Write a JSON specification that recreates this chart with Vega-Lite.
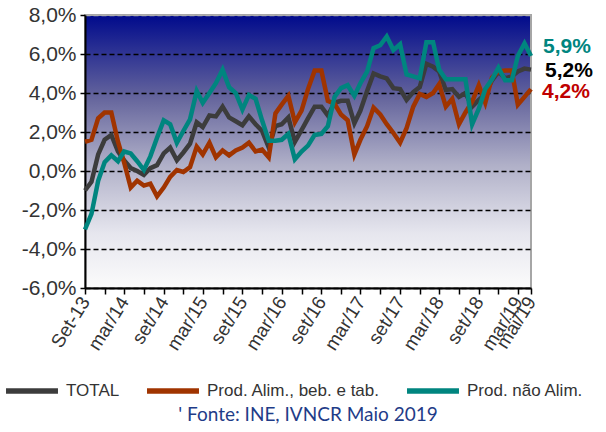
{
  "$schema": "https://vega.github.io/schema/vega-lite/v6.json",
  "width": 446,
  "height": 273,
  "autosize": "none",
  "padding": {"left": 85, "top": 15, "right": 75, "bottom": 144},
  "background": "white",
  "config": {
    "font": "Liberation Sans",
    "view": {
      "fill": {"gradient": "linear", "x1": 0, "y1": 0, "x2": 0, "y2": 1,
        "stops": [
          {"offset": 0, "color": "#000a8c"},
          {"offset": 0.3, "color": "#64649c"},
          {"offset": 0.55, "color": "#b0b0c8"},
          {"offset": 0.8, "color": "#e6e6ee"},
          {"offset": 1, "color": "#fbfbfb"}
        ]},
      "stroke": "#a6a6a6",
      "strokeWidth": 2
    }
  },
  "title": {
    "text": "'   Fonte: INE, IVNCR Maio 2019",
    "orient": "bottom",
    "anchor": "middle",
    "font": "Lato",
    "fontSize": 19,
    "fontWeight": "normal",
    "color": "#1f3c88",
    "offset": 4
  },
  "layer": [
    {
      "data": {"values": [
        {"date": "2013-09-01", "TOTAL": -1.0, "Alim": 1.5, "NaoAlim": -3.0},
        {"date": "2013-10-01", "TOTAL": -0.55, "Alim": 1.6, "NaoAlim": -2.2},
        {"date": "2013-11-01", "TOTAL": 0.85, "Alim": 2.7, "NaoAlim": -0.5},
        {"date": "2013-12-01", "TOTAL": 1.6, "Alim": 3.0, "NaoAlim": 0.45},
        {"date": "2014-01-01", "TOTAL": 1.85, "Alim": 3.0, "NaoAlim": 0.8},
        {"date": "2014-02-01", "TOTAL": 1.0, "Alim": 1.5, "NaoAlim": 0.5},
        {"date": "2014-03-01", "TOTAL": 0.55, "Alim": 0.45, "NaoAlim": 1.0},
        {"date": "2014-04-01", "TOTAL": 0.15, "Alim": -0.85, "NaoAlim": 0.9},
        {"date": "2014-05-01", "TOTAL": 0.0, "Alim": -0.5, "NaoAlim": 0.5},
        {"date": "2014-06-01", "TOTAL": -0.2, "Alim": -0.75, "NaoAlim": 0.05},
        {"date": "2014-07-01", "TOTAL": 0.15, "Alim": -0.65, "NaoAlim": 0.75},
        {"date": "2014-08-01", "TOTAL": 0.3, "Alim": -1.3, "NaoAlim": 1.7},
        {"date": "2014-09-01", "TOTAL": 0.9, "Alim": -0.85, "NaoAlim": 2.6},
        {"date": "2014-10-01", "TOTAL": 1.2, "Alim": -0.3, "NaoAlim": 2.4},
        {"date": "2014-11-01", "TOTAL": 0.55, "Alim": 0.05, "NaoAlim": 1.45},
        {"date": "2014-12-01", "TOTAL": 0.95, "Alim": -0.05, "NaoAlim": 2.05},
        {"date": "2015-01-01", "TOTAL": 1.4, "Alim": 0.2, "NaoAlim": 2.65},
        {"date": "2015-02-01", "TOTAL": 2.5, "Alim": 1.25, "NaoAlim": 4.1},
        {"date": "2015-03-01", "TOTAL": 2.25, "Alim": 0.85, "NaoAlim": 3.5},
        {"date": "2015-04-01", "TOTAL": 2.85, "Alim": 1.45, "NaoAlim": 4.0},
        {"date": "2015-05-01", "TOTAL": 2.8, "Alim": 0.7, "NaoAlim": 4.5},
        {"date": "2015-06-01", "TOTAL": 3.3, "Alim": 1.05, "NaoAlim": 5.2},
        {"date": "2015-07-01", "TOTAL": 2.75, "Alim": 0.8, "NaoAlim": 4.3},
        {"date": "2015-08-01", "TOTAL": 2.55, "Alim": 1.05, "NaoAlim": 4.0},
        {"date": "2015-09-01", "TOTAL": 2.35, "Alim": 1.2, "NaoAlim": 3.15},
        {"date": "2015-10-01", "TOTAL": 2.8, "Alim": 1.45, "NaoAlim": 3.9},
        {"date": "2015-11-01", "TOTAL": 2.4, "Alim": 1.0, "NaoAlim": 3.7},
        {"date": "2015-12-01", "TOTAL": 2.05, "Alim": 1.1, "NaoAlim": 2.6},
        {"date": "2016-01-01", "TOTAL": 1.2, "Alim": 0.7, "NaoAlim": 1.55},
        {"date": "2016-02-01", "TOTAL": 2.3, "Alim": 2.95, "NaoAlim": 1.55},
        {"date": "2016-03-01", "TOTAL": 2.4, "Alim": 3.4, "NaoAlim": 1.6},
        {"date": "2016-04-01", "TOTAL": 2.75, "Alim": 3.85, "NaoAlim": 1.9},
        {"date": "2016-05-01", "TOTAL": 1.5, "Alim": 2.5, "NaoAlim": 0.6},
        {"date": "2016-06-01", "TOTAL": 2.1, "Alim": 3.1, "NaoAlim": 1.0},
        {"date": "2016-07-01", "TOTAL": 2.7, "Alim": 4.2, "NaoAlim": 1.3},
        {"date": "2016-08-01", "TOTAL": 3.3, "Alim": 5.15, "NaoAlim": 1.85},
        {"date": "2016-09-01", "TOTAL": 3.3, "Alim": 5.15, "NaoAlim": 1.9},
        {"date": "2016-10-01", "TOTAL": 2.85, "Alim": 3.6, "NaoAlim": 2.3},
        {"date": "2016-11-01", "TOTAL": 3.5, "Alim": 3.45, "NaoAlim": 3.8},
        {"date": "2016-12-01", "TOTAL": 3.6, "Alim": 2.9, "NaoAlim": 4.25},
        {"date": "2017-01-01", "TOTAL": 3.6, "Alim": 2.6, "NaoAlim": 4.4},
        {"date": "2017-02-01", "TOTAL": 2.45, "Alim": 0.85, "NaoAlim": 3.85},
        {"date": "2017-03-01", "TOTAL": 3.1, "Alim": 1.6, "NaoAlim": 4.5},
        {"date": "2017-04-01", "TOTAL": 4.1, "Alim": 2.3, "NaoAlim": 5.1},
        {"date": "2017-05-01", "TOTAL": 5.0, "Alim": 3.25, "NaoAlim": 6.3},
        {"date": "2017-06-01", "TOTAL": 4.85, "Alim": 2.9, "NaoAlim": 6.45},
        {"date": "2017-07-01", "TOTAL": 4.75, "Alim": 2.4, "NaoAlim": 6.9},
        {"date": "2017-08-01", "TOTAL": 4.25, "Alim": 1.95, "NaoAlim": 6.2},
        {"date": "2017-09-01", "TOTAL": 4.2, "Alim": 1.45, "NaoAlim": 6.5},
        {"date": "2017-10-01", "TOTAL": 3.65, "Alim": 2.2, "NaoAlim": 4.95},
        {"date": "2017-11-01", "TOTAL": 4.05, "Alim": 3.3, "NaoAlim": 4.85},
        {"date": "2017-12-01", "TOTAL": 4.3, "Alim": 3.95, "NaoAlim": 4.75},
        {"date": "2018-01-01", "TOTAL": 5.5, "Alim": 3.8, "NaoAlim": 6.6},
        {"date": "2018-02-01", "TOTAL": 5.35, "Alim": 4.0, "NaoAlim": 6.6},
        {"date": "2018-03-01", "TOTAL": 5.1, "Alim": 4.45, "NaoAlim": 5.2},
        {"date": "2018-04-01", "TOTAL": 4.15, "Alim": 3.3, "NaoAlim": 4.7},
        {"date": "2018-05-01", "TOTAL": 4.2, "Alim": 3.7, "NaoAlim": 4.7},
        {"date": "2018-06-01", "TOTAL": 3.8, "Alim": 2.4, "NaoAlim": 4.7},
        {"date": "2018-07-01", "TOTAL": 4.0, "Alim": 3.0, "NaoAlim": 4.7},
        {"date": "2018-08-01", "TOTAL": 3.3, "Alim": 3.55, "NaoAlim": 2.4},
        {"date": "2018-09-01", "TOTAL": 3.65, "Alim": 4.4, "NaoAlim": 3.2},
        {"date": "2018-10-01", "TOTAL": 3.95, "Alim": 3.5, "NaoAlim": 4.2},
        {"date": "2018-11-01", "TOTAL": 4.65, "Alim": 4.8, "NaoAlim": 4.7},
        {"date": "2018-12-01", "TOTAL": 5.1, "Alim": 5.1, "NaoAlim": 5.3},
        {"date": "2019-01-01", "TOTAL": 4.75, "Alim": 5.15, "NaoAlim": 4.65},
        {"date": "2019-02-01", "TOTAL": 4.85, "Alim": 5.15, "NaoAlim": 4.65},
        {"date": "2019-03-01", "TOTAL": 5.1, "Alim": 3.4, "NaoAlim": 5.9},
        {"date": "2019-04-01", "TOTAL": 5.25, "Alim": 3.8, "NaoAlim": 6.55},
        {"date": "2019-05-01", "TOTAL": 5.2, "Alim": 4.2, "NaoAlim": 5.9}
      ]},
      "transform": [{"fold": ["TOTAL", "Alim", "NaoAlim"], "as": ["series", "value"]}],
      "mark": {"type": "line", "strokeWidth": 4.5, "strokeJoin": "miter"},
      "encoding": {
        "x": {
          "field": "date", "type": "temporal",
          "scale": {"type": "utc", "nice": false,
            "domain": [{"year": 2013, "month": 9, "date": 1, "utc": true}, {"year": 2019, "month": 5, "date": 1, "utc": true}]},
          "axis": {
            "title": null, "grid": false, "tickCount": 40,
            "values": [
              {"year": 2013, "month": 9, "date": 1, "utc": true},
              {"year": 2013, "month": 12, "date": 1, "utc": true},
              {"year": 2014, "month": 3, "date": 1, "utc": true},
              {"year": 2014, "month": 6, "date": 1, "utc": true},
              {"year": 2014, "month": 9, "date": 1, "utc": true},
              {"year": 2014, "month": 12, "date": 1, "utc": true},
              {"year": 2015, "month": 3, "date": 1, "utc": true},
              {"year": 2015, "month": 6, "date": 1, "utc": true},
              {"year": 2015, "month": 9, "date": 1, "utc": true},
              {"year": 2015, "month": 12, "date": 1, "utc": true},
              {"year": 2016, "month": 3, "date": 1, "utc": true},
              {"year": 2016, "month": 6, "date": 1, "utc": true},
              {"year": 2016, "month": 9, "date": 1, "utc": true},
              {"year": 2016, "month": 12, "date": 1, "utc": true},
              {"year": 2017, "month": 3, "date": 1, "utc": true},
              {"year": 2017, "month": 6, "date": 1, "utc": true},
              {"year": 2017, "month": 9, "date": 1, "utc": true},
              {"year": 2017, "month": 12, "date": 1, "utc": true},
              {"year": 2018, "month": 3, "date": 1, "utc": true},
              {"year": 2018, "month": 6, "date": 1, "utc": true},
              {"year": 2018, "month": 9, "date": 1, "utc": true},
              {"year": 2018, "month": 12, "date": 1, "utc": true},
              {"year": 2019, "month": 3, "date": 1, "utc": true},
              {"year": 2019, "month": 5, "date": 1, "utc": true}
            ],
            "labelExpr": "utcmonth(datum.value) == 8 && utcyear(datum.value) == 2013 ? 'Set-13' : utcmonth(datum.value) == 2 ? 'mar/' + utcFormat(datum.value, '%y') : utcmonth(datum.value) == 8 ? 'set/' + utcFormat(datum.value, '%y') : utcmonth(datum.value) == 4 ? 'mai/19' : ''",
            "labelOverlap": false, "labelBound": false, "labelFlush": false,
            "labelAngle": -58, "labelFontSize": 19, "labelColor": "#333333", "labelPadding": 4,
            "domainColor": "black", "domainWidth": 2,
            "tickColor": "black", "tickWidth": 1.5, "tickSize": 6
          }
        },
        "y": {
          "field": "value", "type": "quantitative",
          "scale": {"domain": [-6, 8], "nice": false, "zero": false},
          "axis": {
            "title": null, "tickCount": 20, "labelOverlap": false,
            "values": [-6, -4, -2, 0, 2, 4, 6, 8],
            "labelExpr": "replace(replace(format(datum.value, '.1f'), '.', ','), '\u2212', '-') + '%'",
            "labelFontSize": 21, "labelColor": "#333333", "labelPadding": 4,
            "grid": true, "gridDash": [5, 3], "gridWidth": 1.4,
            "gridColor": {"condition": {"test": "datum.value == 8", "value": "#b0b0b0"}, "value": "black"},
            "domainColor": "black", "domainWidth": 2,
            "tickColor": "black", "tickWidth": 1.5, "tickSize": 5
          }
        },
        "color": {
          "field": "series", "type": "nominal",
          "scale": {"domain": ["TOTAL", "Alim", "NaoAlim"], "range": ["#3c3c3c", "#a03400", "#00857f"]},
          "legend": {
            "orient": "none", "legendX": -82, "legendY": 347, "direction": "horizontal",
            "title": null, "symbolType": "stroke", "symbolSize": 2700, "symbolStrokeWidth": 5.5,
            "labelFontSize": 17, "labelColor": "#333333", "columnPadding": 16, "labelOffset": 5,
            "labelLimit": 400,
            "labelExpr": "datum.label == 'TOTAL' ? 'TOTAL' : datum.label == 'Alim' ? 'Prod. Alim., beb. e tab.' : 'Prod. não Alim.'"
          }
        }
      }
    },
    {
      "data": {"values": [{"date": "2019-05-01", "value": 5.9, "label": "5,9%"}]},
      "mark": {"type": "text", "align": "left", "baseline": "middle", "dx": 12, "dy": -9, "fontSize": 21, "fontWeight": "bold", "color": "#00857f"},
      "encoding": {
        "x": {"field": "date", "type": "temporal", "title": null},
        "y": {"field": "value", "type": "quantitative", "title": null},
        "text": {"field": "label"}
      }
    },
    {
      "data": {"values": [{"date": "2019-05-01", "value": 5.2, "label": "5,2%"}]},
      "mark": {"type": "text", "align": "left", "baseline": "middle", "dx": 14, "dy": 1, "fontSize": 21, "fontWeight": "bold", "color": "#000000"},
      "encoding": {
        "x": {"field": "date", "type": "temporal", "title": null},
        "y": {"field": "value", "type": "quantitative", "title": null},
        "text": {"field": "label"}
      }
    },
    {
      "data": {"values": [{"date": "2019-05-01", "value": 4.2, "label": "4,2%"}]},
      "mark": {"type": "text", "align": "left", "baseline": "middle", "dx": 11, "dy": 3, "fontSize": 21, "fontWeight": "bold", "color": "#c00000"},
      "encoding": {
        "x": {"field": "date", "type": "temporal", "title": null},
        "y": {"field": "value", "type": "quantitative", "title": null},
        "text": {"field": "label"}
      }
    }
  ]
}
